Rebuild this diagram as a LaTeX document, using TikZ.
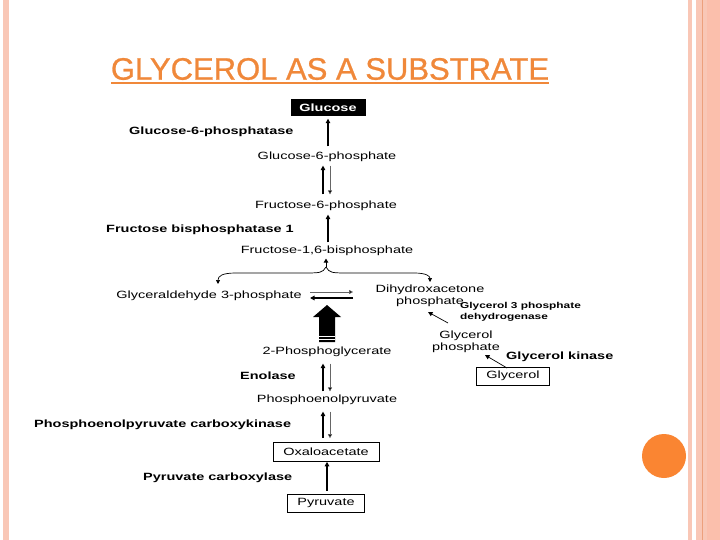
\documentclass[tikz,border=0pt]{standalone}
\usepackage{fontspec}
\setmainfont{Liberation Sans}
\newfontfamily\lf[FakeStretch=1.38]{Liberation Sans}
\newfontfamily\tf[FakeBold=0.8]{Liberation Sans}
\usetikzlibrary{arrows.meta,calc}
\definecolor{ttl}{HTML}{F0883A}
\definecolor{dot}{HTML}{FA8532}
\definecolor{strp}{HTML}{F9C7B6}
\definecolor{strpd}{HTML}{FBBFAC}
\definecolor{strpl}{HTML}{EDA07C}
\tikzset{
  lab/.style={font=\lf\fontsize{10.5}{12}\selectfont, inner sep=0.5pt, align=center},
  enz/.style={font=\lf\bfseries\fontsize{10.5}{12}\selectfont, inner sep=0pt, anchor=west},
  enzs/.style={font=\lf\bfseries\fontsize{8.6}{11}\selectfont, inner sep=0pt, anchor=west, align=left},
  mbox/.style={lab, draw=black, line width=0.6pt, inner sep=0pt},
  upa/.style={line width=1.3pt, -{Triangle[length=4.5pt,width=4.5pt]}},
  dna/.style={line width=0.5pt, draw=black!60, -{Triangle[length=4pt,width=4pt,fill=black]}},
  thinarr/.style={line width=0.7pt, -{Triangle[length=4.5pt,width=4.5pt]}}
}
\begin{document}
\begin{tikzpicture}[x=1pt,y=-1pt]
\useasboundingbox (0,0) rectangle (720,540);
\fill[white] (0,0) rectangle (720,540);
% decorative stripes
\fill[strp] (3,0) rectangle (9,540);
\fill[strp] (688,0) rectangle (692,540);
\fill[strp] (696,0) rectangle (707,540);
\fill[strpd] (707,0) rectangle (720,540);
\fill[strpl] (702,0) rectangle (703.2,540);
\fill[dot] (664,456) circle (22);
% title
\node[font=\tf\fontsize{31}{35}\selectfont, text=ttl, inner sep=0pt] (title) at (330,69) {GLYCEROL AS A SUBSTRATE};
\draw[ttl, line width=2pt] (111,83) -- (549,83);
% metabolites
\node[lab, fill=black, text=white, font=\lf\bfseries\fontsize{10.5}{12}\selectfont, minimum width=75pt, minimum height=17pt] (glc) at (328,108) {Glucose};
\node[lab] (g6p) at (327,157) {Glucose-6-phosphate};
\node[lab] (f6p) at (326,206) {Fructose-6-phosphate};
\node[lab] (f16) at (327,251) {Fructose-1,6-bisphosphate};
\node[lab] (gap) at (209,296) {Glyceraldehyde 3-phosphate};
\node[lab] (dhap) at (430,296) {Dihydroxacetone\\phosphate};
\node[lab] (pg2) at (327,352) {2-Phosphoglycerate};
\node[lab] (pep) at (327,400) {Phosphoenolpyruvate};
\node[mbox, minimum width=106pt, minimum height=19pt] (oaa) at (326,452) {Oxaloacetate};
\node[mbox, minimum width=77pt, minimum height=18pt] (pyr) at (326,503) {Pyruvate};
\node[lab] (glp) at (466,342) {Glycerol\\phosphate};
\node[mbox, minimum width=73pt, minimum height=18pt] (gly) at (513,376) {Glycerol};
% enzymes
\node[enz] (e1) at (129,132) {Glucose-6-phosphatase};
\node[enz] (e2) at (106,230) {Fructose bisphosphatase 1};
\node[enz] (e3) at (240,376) {Enolase};
\node[enz] (e4) at (34,425) {Phosphoenolpyruvate carboxykinase};
\node[enz] (e5) at (143,478) {Pyruvate carboxylase};
\node[enz] (e6) at (506,357) {Glycerol kinase};
\node[enzs] (e7) at (460,312) {Glycerol 3 phosphate\\dehydrogenase};
% main chain connectors
\draw[upa] ($(g6p.north)+(1,-5)$) -- ($(glc.south)+(0,2)$);
\draw[upa] ($(f6p.north)+(-3,-6)$) -- ($(g6p.south)+(-4,3)$);
\draw[dna] ($(g6p.south)+(3,3)$) -- ($(f6p.north)+(4,-6)$);
\draw[upa] ($(f16.north)+(1,-3)$) -- ($(f6p.south)+(2,3)$);
\draw[upa] ($(pep.north)+(-4,-3)$) -- ($(pg2.south)+(-4,6)$);
\draw[dna] ($(pg2.south)+(3,6)$) -- ($(pep.north)+(3,-3)$);
\draw[upa] ($(oaa.north)+(-3,-4)$) -- ($(pep.south)+(-4,6)$);
\draw[dna] ($(pep.south)+(3,6)$) -- ($(oaa.north)+(4,-4)$);
\draw[upa] ($(pyr.north)+(1,-3)$) -- ($(oaa.south)+(1,0)$);
% fork
\coordinate (cusp) at (326,267);
\coordinate (fl) at (218,284);
\coordinate (fr) at (430,282);
\draw[line width=0.7pt, -{Triangle[length=4pt,width=4pt]}] (cusp) .. controls (322,273) .. (300,273) -- (236,273) .. controls (222,273) and (218,276) .. (fl);
\draw[line width=0.7pt, -{Triangle[length=4pt,width=4pt]}] (cusp) .. controls (330,273) .. (352,273) -- (414,273) .. controls (426,273) and (430,276) .. (fr);
\draw[line width=1pt, -{Triangle[length=4pt,width=4.5pt]}] (cusp) -- ($(f16.south)+(-1,2)$);
% triose isomerase arrows
\coordinate (ta1) at (310,292);
\coordinate (ta2) at (353,292);
\coordinate (tb1) at (353,298);
\coordinate (tb2) at (310,298);
\draw[dna] (ta1) -- (ta2);
\draw[line width=1.1pt, -{Triangle[length=4.5pt,width=4.5pt]}] (tb1) -- (tb2);
% big block arrow
\fill[black] (327,305) -- (341,317) -- (335,317) -- (335,342) -- (319,342) -- (319,317) -- (313,317) -- cycle;
\draw[white, line width=0.7pt] (319,336.5) -- (335,336.5);
\draw[white, line width=0.7pt] (319,339.5) -- (335,339.5);
% glycerol arrows
\coordinate (gp1) at (448,323);
\coordinate (gp2) at (428,312);
\coordinate (gk1) at (507,368);
\coordinate (gk2) at (485,355);
\draw[thinarr] (gp1) -- (gp2);
\draw[thinarr] (gk1) -- (gk2);
\end{tikzpicture}
\end{document}
